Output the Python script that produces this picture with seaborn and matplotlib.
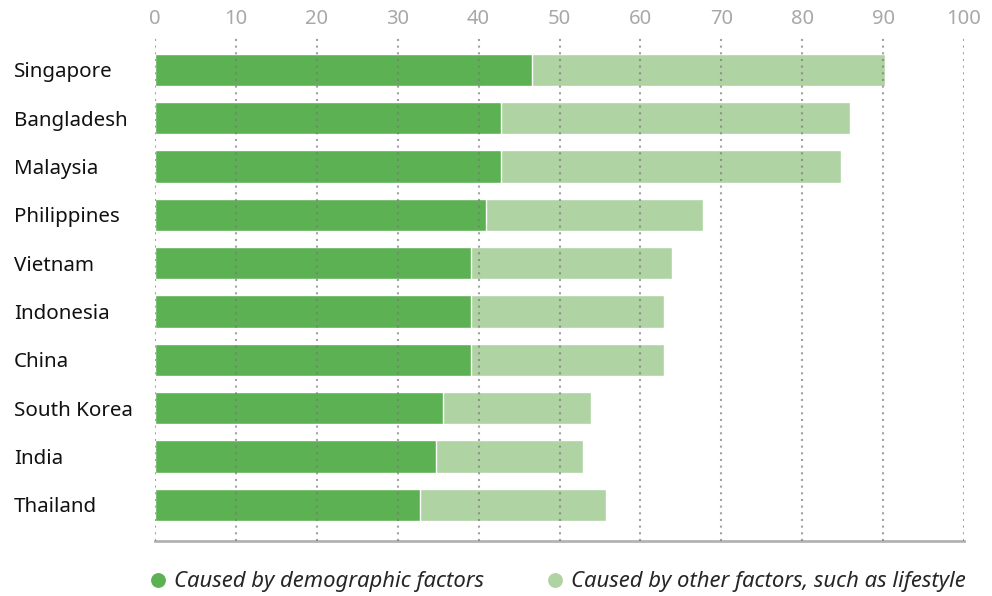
import matplotlib
matplotlib.use("Agg")
import matplotlib.pyplot as plt
from matplotlib.lines import Line2D
import seaborn as sns
import pandas as pd

countries = ["Singapore", "Bangladesh", "Malaysia", "Philippines", "Vietnam",
             "Indonesia", "China", "South Korea", "India", "Thailand"]
demographic = [46.6, 42.8, 42.8, 40.9, 39.1, 39.0, 39.0, 35.6, 34.7, 32.8]
total = [90.2, 85.9, 84.8, 67.7, 63.9, 62.9, 62.9, 53.9, 52.9, 55.7]
xticks = [0, 10, 20, 30, 40, 50, 60, 70, 80, 90, 100]
legend_labels = ["Caused by demographic factors", "Caused by other factors, such as lifestyle"]

dark = "#5cb152"
light = "#b0d3a3"

sns.set_theme(style="white")
plt.rcParams['font.family'] = ['Noto Sans', 'DejaVu Sans']

df = pd.DataFrame({"country": countries, "demographic": demographic, "total": total})

fig = plt.figure(figsize=(9.92, 5.96), dpi=100)
ax = fig.add_axes([155/992, 1-541/596, (964-155)/992, (541-35)/596])

sns.barplot(data=df, y="country", x="total", color=light, saturation=1,
            width=0.67, orient="h", ax=ax, zorder=2)
sns.barplot(data=df, y="country", x="demographic", color=dark, saturation=1,
            width=0.67, orient="h", ax=ax, zorder=3)

ax.set_xlim(0, 100)
ax.set_ylim(9.75, -0.72)
ax.set_xlabel("")
ax.set_ylabel("")
ax.xaxis.tick_top()
ax.set_xticks(xticks)
ax.set_xticklabels([str(t) for t in xticks])
ax.tick_params(axis="x", length=0, pad=4, labelsize=14.5, labelcolor="#a8a8a8")
ax.tick_params(axis="y", length=0, pad=101.5, labelsize=14.8, labelcolor="#111111")
for lbl in ax.get_yticklabels():
    lbl.set_horizontalalignment("left")

ax.grid(False)
for t in xticks:
    ax.axvline(t, color="#7a7a7a", linestyle=(0, (1, 2.2)), linewidth=1.5,
               alpha=0.7, zorder=4)

for s in ["top", "left", "right"]:
    ax.spines[s].set_visible(False)
ax.spines["bottom"].set_color("#b3b3b3")
ax.spines["bottom"].set_linewidth(2)

handles = [Line2D([0], [0], marker="o", color="w", markerfacecolor=dark, markersize=11.7),
           Line2D([0], [0], marker="o", color="w", markerfacecolor=light, markersize=11.7)]
fig.legend(handles, legend_labels, loc="center left", bbox_to_anchor=(146/992, 1-582/596),
           ncol=2, frameon=False, prop={"style": "italic", "size": 15.9},
           handletextpad=0.15, columnspacing=2.7, handlelength=1.1, borderaxespad=0,
           borderpad=0)

fig.savefig("out.png", dpi=100)
